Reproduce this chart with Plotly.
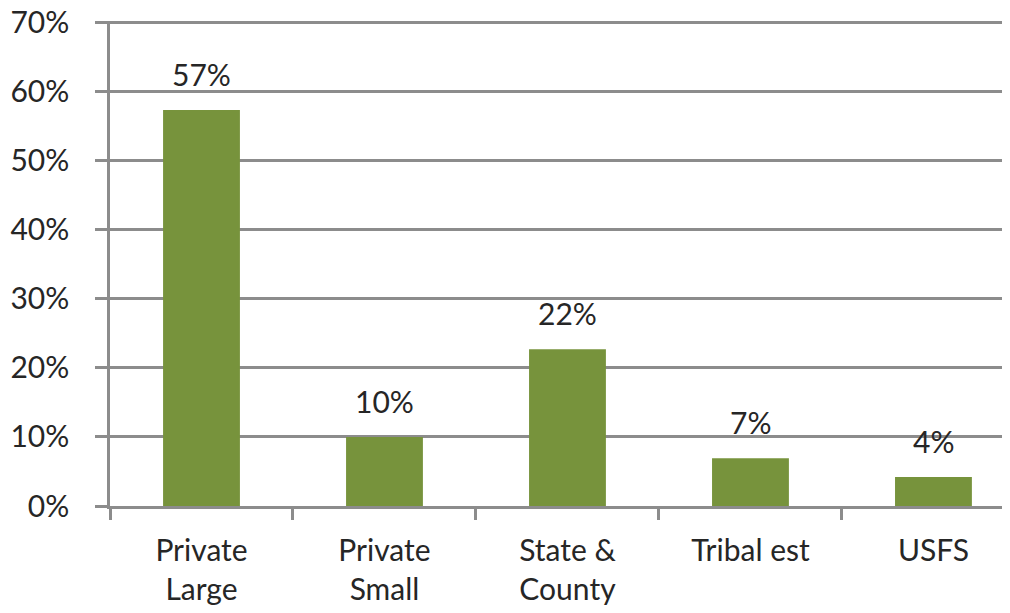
import plotly.graph_objects as go

categories = ["Private<br>Large", "Private<br>Small", "State &<br>County", "Tribal est", "USFS"]
values = [0.573, 0.100, 0.227, 0.069, 0.042]
labels = ["57%", "10%", "22%", "7%", "4%"]
y_ticks = [0, 0.1, 0.2, 0.3, 0.4, 0.5, 0.6, 0.7]
y_tick_text = ["0%", "10%", "20%", "30%", "40%", "50%", "60%", "70%"]

FONT = "Lato"
TXT = "#262626"
GRID = "#8c8c8c"

fig = go.Figure()
fig.add_trace(go.Bar(
    x=categories, y=values,
    marker=dict(color="#77933C", line=dict(width=0)),
    width=0.42,
    hoverinfo="skip",
))

for c, v, t in zip(categories, values, labels):
    fig.add_annotation(x=c, y=v, text=t, showarrow=False, yanchor="bottom",
                       yshift=16, font=dict(family=FONT, size=30, color=TXT))

fig.update_layout(
    width=1010, height=613,
    margin=dict(l=102, r=0, t=13, b=115, autoexpand=False),
    paper_bgcolor="white", plot_bgcolor="white",
    showlegend=False,
    font=dict(family=FONT, size=30, color=TXT),
    xaxis=dict(
        type="category",
        range=[-0.5, 4.462],
        automargin=False,
        showline=True, linecolor=GRID, linewidth=2.5,
        ticks="outside", tickson="boundaries", ticklen=11, tickwidth=2.5, tickcolor=GRID,
        ticklabelstandoff=16,
        showgrid=False,
        tickfont=dict(family=FONT, size=30, color=TXT),
    ),
    yaxis=dict(
        range=[0, 0.702],
        automargin=False,
        tickvals=y_ticks, ticktext=y_tick_text,
        showline=True, linecolor=GRID, linewidth=2.5,
        ticks="outside", ticklen=12, tickwidth=2.5, tickcolor=GRID,
        showgrid=True, gridcolor=GRID, gridwidth=2.5,
        zeroline=False,
        ticklabelstandoff=20,
        ticklabeloverflow="allow",
        tickfont=dict(family=FONT, size=30, color=TXT),
    ),
)

fig.write_html("out.html")
